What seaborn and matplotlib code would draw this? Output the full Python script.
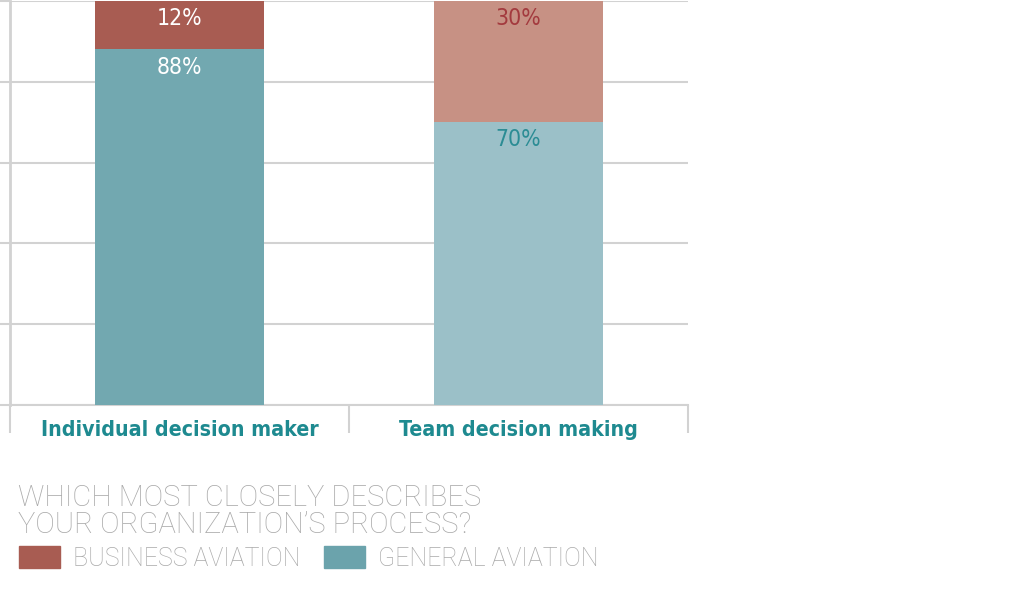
import matplotlib
matplotlib.use("Agg")
import matplotlib.pyplot as plt
import numpy as np
import pandas as pd
import seaborn as sns

# values
categories = ["Individual decision maker", "Team decision making"]
business_pct = [12, 30]
general_pct = [88, 70]

business_colors = ["#A85C52", "#C79184"]
general_colors = ["#72A8B0", "#9BC0C8"]
business_label_colors = ["#FFFFFF", "#A33A3E"]
general_label_colors = ["#FFFFFF", "#2B8C94"]

GRID = "#D2D2D2"
TEAL_TEXT = "#1E8A90"
GRAY_TEXT = "#A9A9A9"
NARROW = ["DejaVu Sans"]
LIGHT = ["Roboto", "DejaVu Sans"]

df = pd.DataFrame({
    "category": categories,
    "business": business_pct,
    "general": general_pct,
})
df["total"] = df["business"] + df["general"]

sns.set_theme(style="white")
fig = plt.figure(figsize=(10.24, 5.9), dpi=100)
ax = fig.add_axes([10 / 1024, 185 / 590, 678 / 1024, 404 / 590])

# stacked: full-height business bar, general drawn on top of it
sns.barplot(data=df, x="category", y="total", hue="category",
            palette=business_colors, width=0.5, saturation=1, linewidth=0,
            legend=False, ax=ax, zorder=2)
sns.barplot(data=df, x="category", y="general", hue="category",
            palette=general_colors, width=0.5, saturation=1, linewidth=0,
            legend=False, ax=ax, zorder=3)

for i, row in df.iterrows():
    ax.text(i, row["total"] - 1.5, f"{row['business']}%", ha="center", va="top",
            fontsize=16.5, family=NARROW, fontstretch="condensed",
            color=business_label_colors[i], zorder=4)
    ax.text(i, row["general"] - 1.5, f"{row['general']}%", ha="center", va="top",
            fontsize=16.5, family=NARROW, fontstretch="condensed",
            color=general_label_colors[i], zorder=4)

ax.set_xlim(-0.5, 1.5)
ax.set_ylim(0, 100)
ax.set_yticks(np.arange(0, 101, 20))
ax.yaxis.grid(True, color=GRID, linewidth=1.5, zorder=0)
ax.set_axisbelow(True)
ax.tick_params(axis="y", which="major", left=True, length=7.2, width=1.5,
               color=GRID, labelleft=False)

# category separators below the baseline
ax.set_xticks([-0.5, 0.5, 1.5], minor=True)
ax.tick_params(axis="x", which="minor", bottom=True, length=20, width=1.5,
               color=GRID, direction="out")
ax.tick_params(axis="x", which="major", bottom=False, pad=5)
ax.set_xticklabels(categories, fontsize=15.3, family=NARROW, fontstretch="condensed",
                   fontweight="bold", color=TEAL_TEXT)
ax.set_xlabel("")
ax.set_ylabel("")

for side in ["top", "right"]:
    ax.spines[side].set_visible(False)
ax.spines["left"].set_color(GRID)
ax.spines["left"].set_linewidth(2)
ax.spines["bottom"].set_color(GRID)
ax.spines["bottom"].set_linewidth(1.5)

# title and legend below the chart
fig.text(18 / 1024, 1 - 506 / 590, "WHICH MOST CLOSELY DESCRIBES", fontsize=21,
         family=LIGHT, fontweight="light", color=GRAY_TEXT, va="baseline")
fig.text(18 / 1024, 1 - 533 / 590, "YOUR ORGANIZATION\u2019S PROCESS?", fontsize=21,
         family=LIGHT, fontweight="light", color=GRAY_TEXT, va="baseline")

legend_items = [("BUSINESS AVIATION", "#A85C52", 19), ("GENERAL AVIATION", "#6BA3AC", 324)]
for label, color, x0 in legend_items:
    fig.patches.append(plt.Rectangle((x0 / 1024, 1 - 568 / 590), 41 / 1024, 22 / 590,
                                     transform=fig.transFigure, color=color, figure=fig))
    fig.text((x0 + 54) / 1024, 1 - 566 / 590, label, fontsize=18, family=LIGHT,
             fontweight="light", color=GRAY_TEXT, va="baseline")

fig.savefig("out.png", dpi=100)
